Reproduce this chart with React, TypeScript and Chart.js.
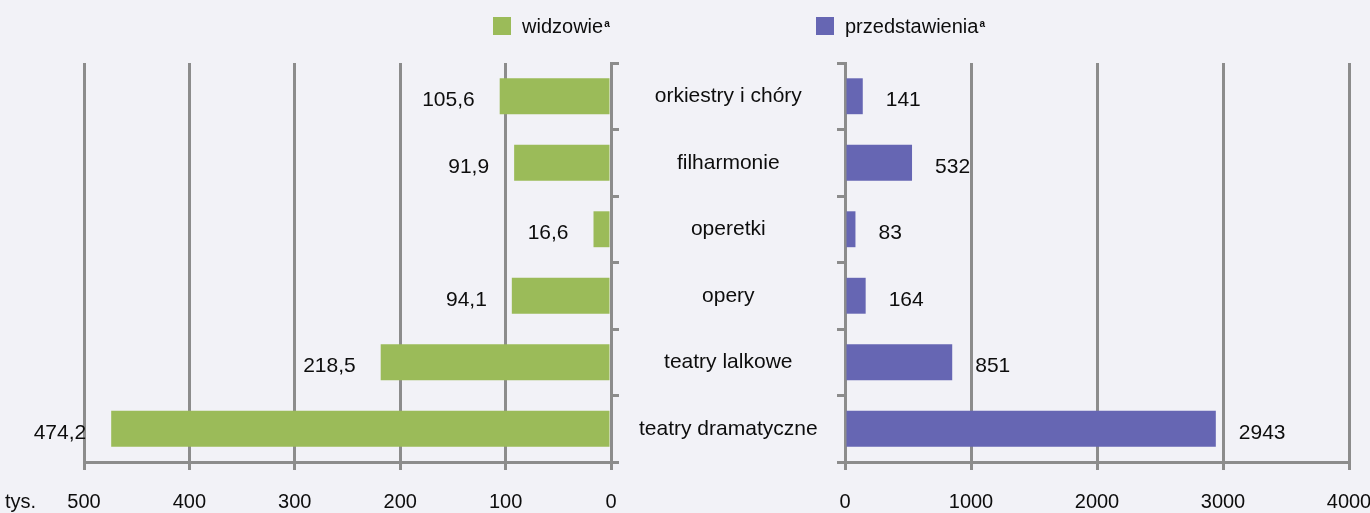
import React, { useEffect, useRef } from 'react';
import { Chart, registerables } from 'chart.js';

Chart.register(...registerables);

const categories = ['orkiestry i chóry', 'filharmonie', 'operetki', 'opery', 'teatry lalkowe', 'teatry dramatyczne'];
const viewers = [105.6, 91.9, 16.6, 94.1, 218.5, 474.2];
const performances = [141, 532, 83, 164, 851, 2943];
const viewerTickValues = [0, 100, 200, 300, 400, 500];
const performanceTickValues = [0, 1000, 2000, 3000, 4000];
const unitLabel = 'tys.';
const legendViewers = 'widzowie';
const legendPerformances = 'przedstawienia';

const FONT = "'Liberation Sans', Arial, sans-serif";
const GRID = '#8c8c8c';
const TEXT = '#0d0d0d';
const GREEN = '#9bbb59';
const PURPLE = '#6666b3';
const BG = '#f2f2f7';

function valueLabelPlugin(side: 'left' | 'right', fmt: (v: number) => string) {
  return {
    id: 'valueLabels' + side,
    afterDatasetsDraw(chart: any) {
      const ctx = chart.ctx;
      const meta = chart.getDatasetMeta(0);
      const data = chart.data.datasets[0].data as number[];
      ctx.save();
      ctx.font = `21px ${FONT}`;
      ctx.fillStyle = TEXT;
      ctx.textBaseline = 'middle';
      meta.data.forEach((bar: any, i: number) => {
        const txt = fmt(data[i]);
        if (side === 'left') {
          ctx.textAlign = 'right';
          ctx.fillText(txt, bar.x - 25, bar.y + 4);
        } else {
          ctx.textAlign = 'left';
          ctx.fillText(txt, bar.x + 23, bar.y + 4);
        }
      });
      ctx.restore();
    },
  };
}

const unitPlugin = {
  id: 'unitLabel',
  afterDraw(chart: any) {
    const ctx = chart.ctx;
    ctx.save();
    ctx.font = `20px ${FONT}`;
    ctx.fillStyle = TEXT;
    ctx.textAlign = 'left';
    ctx.textBaseline = 'middle';
    ctx.fillText(unitLabel, 5, 502);
    ctx.restore();
  },
};

const gridOpts = { color: GRID, lineWidth: 3, tickLength: 8 };
const borderOpts = { color: GRID, width: 3 };

export default function App() {
  const leftRef = useRef<HTMLCanvasElement>(null);
  const rightRef = useRef<HTMLCanvasElement>(null);

  useEffect(() => {
    document.body.style.margin = '0';
    Chart.defaults.font.family = FONT;
    Chart.defaults.color = TEXT;

    const left = new Chart(leftRef.current!, {
      type: 'bar',
      data: {
        labels: categories,
        datasets: [
          {
            label: legendViewers,
            data: viewers,
            backgroundColor: GREEN,
            barPercentage: 0.54,
            categoryPercentage: 1,
          },
        ],
      },
      options: {
        indexAxis: 'y',
        animation: false,
        responsive: false,
        layout: { padding: { top: 63, left: 84, right: 0, bottom: 0 } },
        plugins: { legend: { display: false }, tooltip: { enabled: false } },
        scales: {
          x: {
            type: 'linear',
            reverse: true,
            min: 0,
            max: 500,
            afterBuildTicks: (s: any) => {
              s.ticks = viewerTickValues.map((v) => ({ value: v }));
            },
            ticks: { font: { size: 20 }, color: TEXT, padding: 20, maxRotation: 0, callback: (v: any) => String(v) },
            grid: gridOpts,
            border: borderOpts,
            afterFit: (s: any) => {
              s.height = 51;
              s.paddingLeft = 20;
              s.paddingRight = 0;
            },
          },
          y: {
            position: 'right',
            offset: true,
            grid: { ...gridOpts, drawOnChartArea: false, offset: true },
            border: borderOpts,
            ticks: { font: { size: 21 }, color: TEXT, crossAlign: 'center', padding: 20 },
            afterFit: (s: any) => {
              s.width = 234;
            },
          },
        },
      } as any,
      plugins: [valueLabelPlugin('left', (v) => v.toFixed(1).replace('.', ',')), unitPlugin],
    });

    const right = new Chart(rightRef.current!, {
      type: 'bar',
      data: {
        labels: categories,
        datasets: [
          {
            label: legendPerformances,
            data: performances,
            backgroundColor: PURPLE,
            barPercentage: 0.54,
            categoryPercentage: 1,
          },
        ],
      },
      options: {
        indexAxis: 'y',
        animation: false,
        responsive: false,
        layout: { padding: { top: 63, left: 17, right: 21, bottom: 0 } },
        plugins: { legend: { display: false }, tooltip: { enabled: false } },
        scales: {
          x: {
            type: 'linear',
            min: 0,
            max: 4000,
            afterBuildTicks: (s: any) => {
              s.ticks = performanceTickValues.map((v) => ({ value: v }));
            },
            ticks: { font: { size: 20 }, color: TEXT, padding: 20, maxRotation: 0, callback: (v: any) => String(v) },
            grid: gridOpts,
            border: borderOpts,
            afterFit: (s: any) => {
              s.height = 51;
              s.paddingLeft = 0;
              s.paddingRight = 21;
            },
          },
          y: {
            position: 'left',
            offset: true,
            grid: { ...gridOpts, drawOnChartArea: false, offset: true },
            border: borderOpts,
            ticks: { display: false },
            afterFit: (s: any) => {
              s.width = 8;
            },
          },
        },
      } as any,
      plugins: [valueLabelPlugin('right', (v) => String(v))],
    });

    return () => {
      left.destroy();
      right.destroy();
    };
  }, []);

  const legendText: React.CSSProperties = {
    fontFamily: FONT,
    fontSize: 20,
    color: TEXT,
    lineHeight: '20px',
  };
  const sup: React.CSSProperties = { fontSize: 10, fontWeight: 'bold', verticalAlign: 'top', position: 'relative', top: -2, marginLeft: 1 };

  return (
    <div style={{ position: 'absolute', left: 0, top: 0, width: 1370, height: 513, background: BG, overflow: 'hidden' }}>
      <canvas ref={leftRef} width={845} height={513} style={{ position: 'absolute', left: 0, top: 0, width: 845, height: 513 }} />
      <canvas ref={rightRef} width={550} height={513} style={{ position: 'absolute', left: 820, top: 0, width: 550, height: 513 }} />
      <div style={{ position: 'absolute', left: 493, top: 16, display: 'flex', alignItems: 'center' }}>
        <span style={{ width: 18, height: 18, background: GREEN, display: 'inline-block', marginRight: 11 }} />
        <span style={legendText}>
          {legendViewers}
          <span style={sup}>a</span>
        </span>
      </div>
      <div style={{ position: 'absolute', left: 816, top: 16, display: 'flex', alignItems: 'center' }}>
        <span style={{ width: 18, height: 18, background: PURPLE, display: 'inline-block', marginRight: 11 }} />
        <span style={legendText}>
          {legendPerformances}
          <span style={sup}>a</span>
        </span>
      </div>
    </div>
  );
}
